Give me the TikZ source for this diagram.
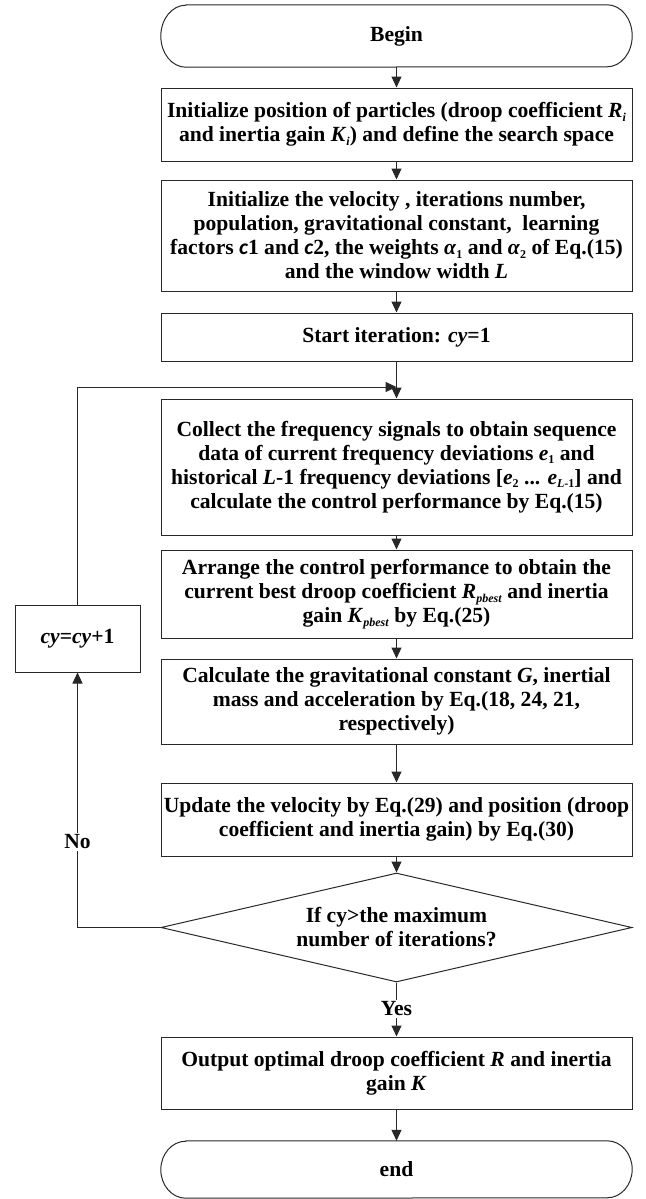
\documentclass[tikz,border=0pt]{standalone}
\usepackage{fontspec}
\setmainfont{Liberation Serif}
\newfontfamily\cfont{Carlito}
\usetikzlibrary{arrows.meta,shapes.geometric}
\definecolor{lc}{RGB}{40,40,40}
\newcommand\sbs[1]{\raisebox{-0.35ex}{\fontsize{12}{12}\selectfont #1}}
\newcommand\cc{{\cfont\itshape c}}
\tikzset{
  txt/.style={font=\bfseries\fontsize{21.6}{24}\selectfont, align=center, inner sep=0pt},
  box/.style={txt, draw=lc, line width=1pt, rectangle, minimum width=471pt},
  term/.style={txt, rectangle, minimum width=471pt},
  arr/.style={draw=lc, line width=1pt, -{Triangle[length=11pt,width=10pt]}},
  ln/.style={draw=lc, line width=1pt},
  lbl/.style={txt, fill=white, inner sep=2pt},
}
\begin{document}
\begin{tikzpicture}[x=1pt,y=1pt]
\useasboundingbox (0,0) rectangle (645,-1199);

% terminals
\node[term, minimum height=62pt] (begin) at (396.5,-36) {Begin};
\draw[ln] ([xshift=25pt]begin.north west) -- ([xshift=-25pt]begin.north east)
  arc[start angle=90,end angle=-90,x radius=25pt,y radius=31pt]
  -- ([xshift=25pt]begin.south west)
  arc[start angle=270,end angle=90,x radius=25pt,y radius=31pt] -- cycle;

\node[box, minimum height=73pt] (b1) at (396.5,-124.5)
  {Initialize position of particles (droop coefficient \textit{R}\sbs{\textit{i}}\\
   and inertia gain \textit{K}\sbs{\textit{i}}) and define the search space};

\node[box, minimum height=111pt] (b2) at (396.5,-235.5)
  {Initialize the velocity , iterations number,\\
   population, gravitational constant,\ \ learning\\
   factors \cc1 and \cc2, the weights \textit{α}\sbs{1} and \textit{α}\sbs{2} of Eq.(15)\\
   and the window width \textit{L}};

\node[box, minimum height=48pt] (b3) at (396.5,-337)
  {Start iteration: \textit{cy}=1};

\node[box, minimum height=136pt] (b4) at (396.5,-467)
  {Collect the frequency signals to obtain sequence\\
   data of current frequency deviations \textit{e}\sbs{1} and\\
   historical \textit{L}-1 frequency deviations [\textit{e}\sbs{2} ... \textit{e}\sbs{\textit{L}-1}] and\\
   calculate the control performance by Eq.(15)};

\node[box, minimum height=88pt] (b5) at (396.5,-594)
  {Arrange the control performance to obtain the\\
   current best droop coefficient \textit{R}\sbs{\textit{pbest}} and inertia\\
   gain \textit{K}\sbs{\textit{pbest}} by Eq.(25)};

\node[box, minimum height=85pt] (b6) at (396.5,-701.5)
  {Calculate the gravitational constant \textit{G}, inertial\\
   mass and acceleration by Eq.(18, 24, 21,\\
   respectively)};

\node[box, minimum height=73pt] (b7) at (396.5,-819.5)
  {Update the velocity by Eq.(29) and position (droop\\
   coefficient and inertia gain) by Eq.(30)};

\node[txt, draw=lc, line width=1pt, diamond, aspect=4.3, minimum width=471pt, minimum height=109pt] (dia) at (396.5,-927.5)
  {If cy>the maximum\\ number of iterations?};

\node[box, minimum height=72pt] (b8) at (396.5,-1073)
  {Output optimal droop coefficient \textit{R} and inertia\\
   gain \textit{K}};

\node[term, minimum height=57pt] (end) at (396.5,-1169.5) {end};
\draw[ln] ([xshift=25pt]end.north west) -- ([xshift=-25pt]end.north east)
  arc[start angle=90,end angle=-90,x radius=25pt,y radius=28.5pt]
  -- ([xshift=25pt]end.south west)
  arc[start angle=270,end angle=90,x radius=25pt,y radius=28.5pt] -- cycle;

\node[box, minimum width=125pt, minimum height=67pt] (cy) at (77.5,-638.5)
  {\textit{cy}=\textit{cy}+1};

% main flow
\draw[arr] (begin.south) -- (b1.north);
\draw[arr] (b1.south) -- (b2.north);
\draw[arr] (b2.south) -- (b3.north);
\draw[arr] (b3.south) -- (b4.north);
\draw[arr] (b4.south) -- (b5.north);
\draw[arr] (b5.south) -- (b6.north);
\draw[arr] (b6.south) -- (b7.north);
\draw[arr] (b7.south) -- (dia.north);
\draw[arr] (dia.south) -- (b8.north);
\draw[arr] (b8.south) -- (end.north);

% loop back
\coordinate (join) at (396.5,-387);
\draw[arr] (dia.west) -| (cy.south);
\draw[arr] (cy.north) |- (join);

\node[lbl] (no) at (77.5,-842) {No};
\node[lbl] (yes) at (396.5,-1009) {Yes};
\end{tikzpicture}
\end{document}
